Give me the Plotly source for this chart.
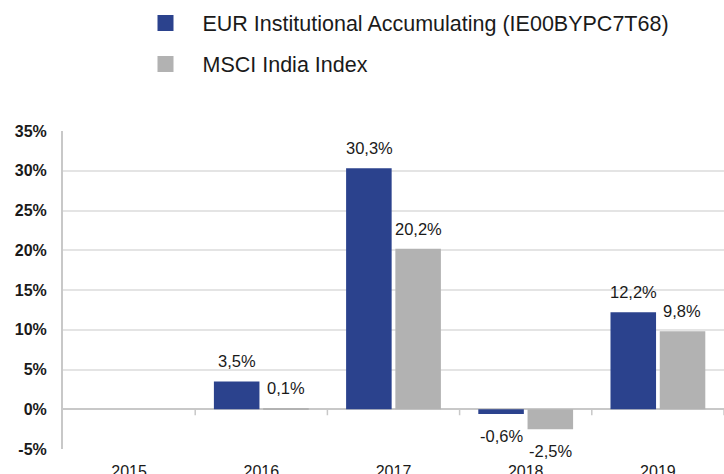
import plotly.graph_objects as go

years = ["2015", "2016", "2017", "2018", "2019"]
fund = [None, 3.5, 30.3, -0.6, 12.2]
index = [None, 0.1, 20.2, -2.5, 9.8]
series_names = ["EUR Institutional Accumulating (IE00BYPC7T68)", "MSCI India Index"]
colors = ["#2b428d", "#b2b2b2"]
yticks = [-5, 0, 5, 10, 15, 20, 25, 30, 35]

FONT = "Liberation Sans, Arial, sans-serif"

fig = go.Figure()
for name, vals, col in zip(series_names, [fund, index], colors):
    fig.add_trace(go.Bar(x=years, y=vals, name=name, marker=dict(color=col, line=dict(width=0)),
                         showlegend=False, hoverinfo="skip"))
# legend proxies (larger square symbols)
for i, (name, col) in enumerate(zip(series_names, colors)):
    fig.add_trace(go.Scatter(x=[None], y=[None], mode="markers", name=name,
                             marker=dict(symbol="square", size=16, color=col),
                             legendgroup=f"g{i}"))

def fmt(v):
    return f"{v:.1f}".replace(".", ",") + "%"

slot_px = 24.5
for si, vals in enumerate([fund, index]):
    for ci, v in enumerate(vals):
        if v is None:
            continue
        fig.add_annotation(x=ci, y=v, xref="x", yref="y", text=fmt(v), showarrow=False,
                           xshift=(-slot_px if si == 0 else slot_px),
                           yshift=(20 if v >= 0 else -22), yanchor="middle",
                           font=dict(family=FONT, size=16.5, color="#1a1a1a"))

# small tick marks on the zero line between categories
for i in range(len(years)):
    fig.add_shape(type="line", xref="x", yref="y", x0=i + 0.5, x1=i + 0.5,
                  ysizemode="pixel", yanchor=0, y0=0, y1=-6,
                  line=dict(color="#c8c8c8", width=1.5))

fig.update_layout(
    width=724, height=474,
    margin=dict(l=63, r=0, t=131, b=25, autoexpand=False),
    paper_bgcolor="white", plot_bgcolor="white",
    barmode="group", bargap=0.255, bargroupgap=0.075,
    font=dict(family=FONT, color="#1a1a1a"),
    legend=dict(orientation="v", xref="container", yref="container",
                x=128.5 / 724, y=1 - 2.5 / 474, xanchor="left", yanchor="top",
                font=dict(family=FONT, size=21.5, color="#1a1a1a"),
                itemwidth=64, tracegroupgap=10, traceorder="grouped",
                bgcolor="rgba(0,0,0,0)"),
    xaxis=dict(type="category", range=[-0.5, 4.5], showgrid=False, showline=False,
               ticks="", ticklabelstandoff=11, tickangle=0,
               tickfont=dict(family=FONT, size=16, color="#1a1a1a")),
    yaxis=dict(range=[-5, 35], tickvals=yticks, ticktext=[f"{v}%" for v in yticks],
               showgrid=True, gridcolor="#e4e4e4", gridwidth=1.5,
               zeroline=True, zerolinecolor="#c8c8c8", zerolinewidth=2,
               showline=True, linecolor="#c8c8c8", linewidth=2,
               ticks="", ticklabelstandoff=11,
               tickfont=dict(family=FONT, size=16, color="#1a1a1a", weight="bold")),
)

fig.write_html("out.html", config={"displayModeBar": False},
               post_script="document.body.style.margin='0px';")
